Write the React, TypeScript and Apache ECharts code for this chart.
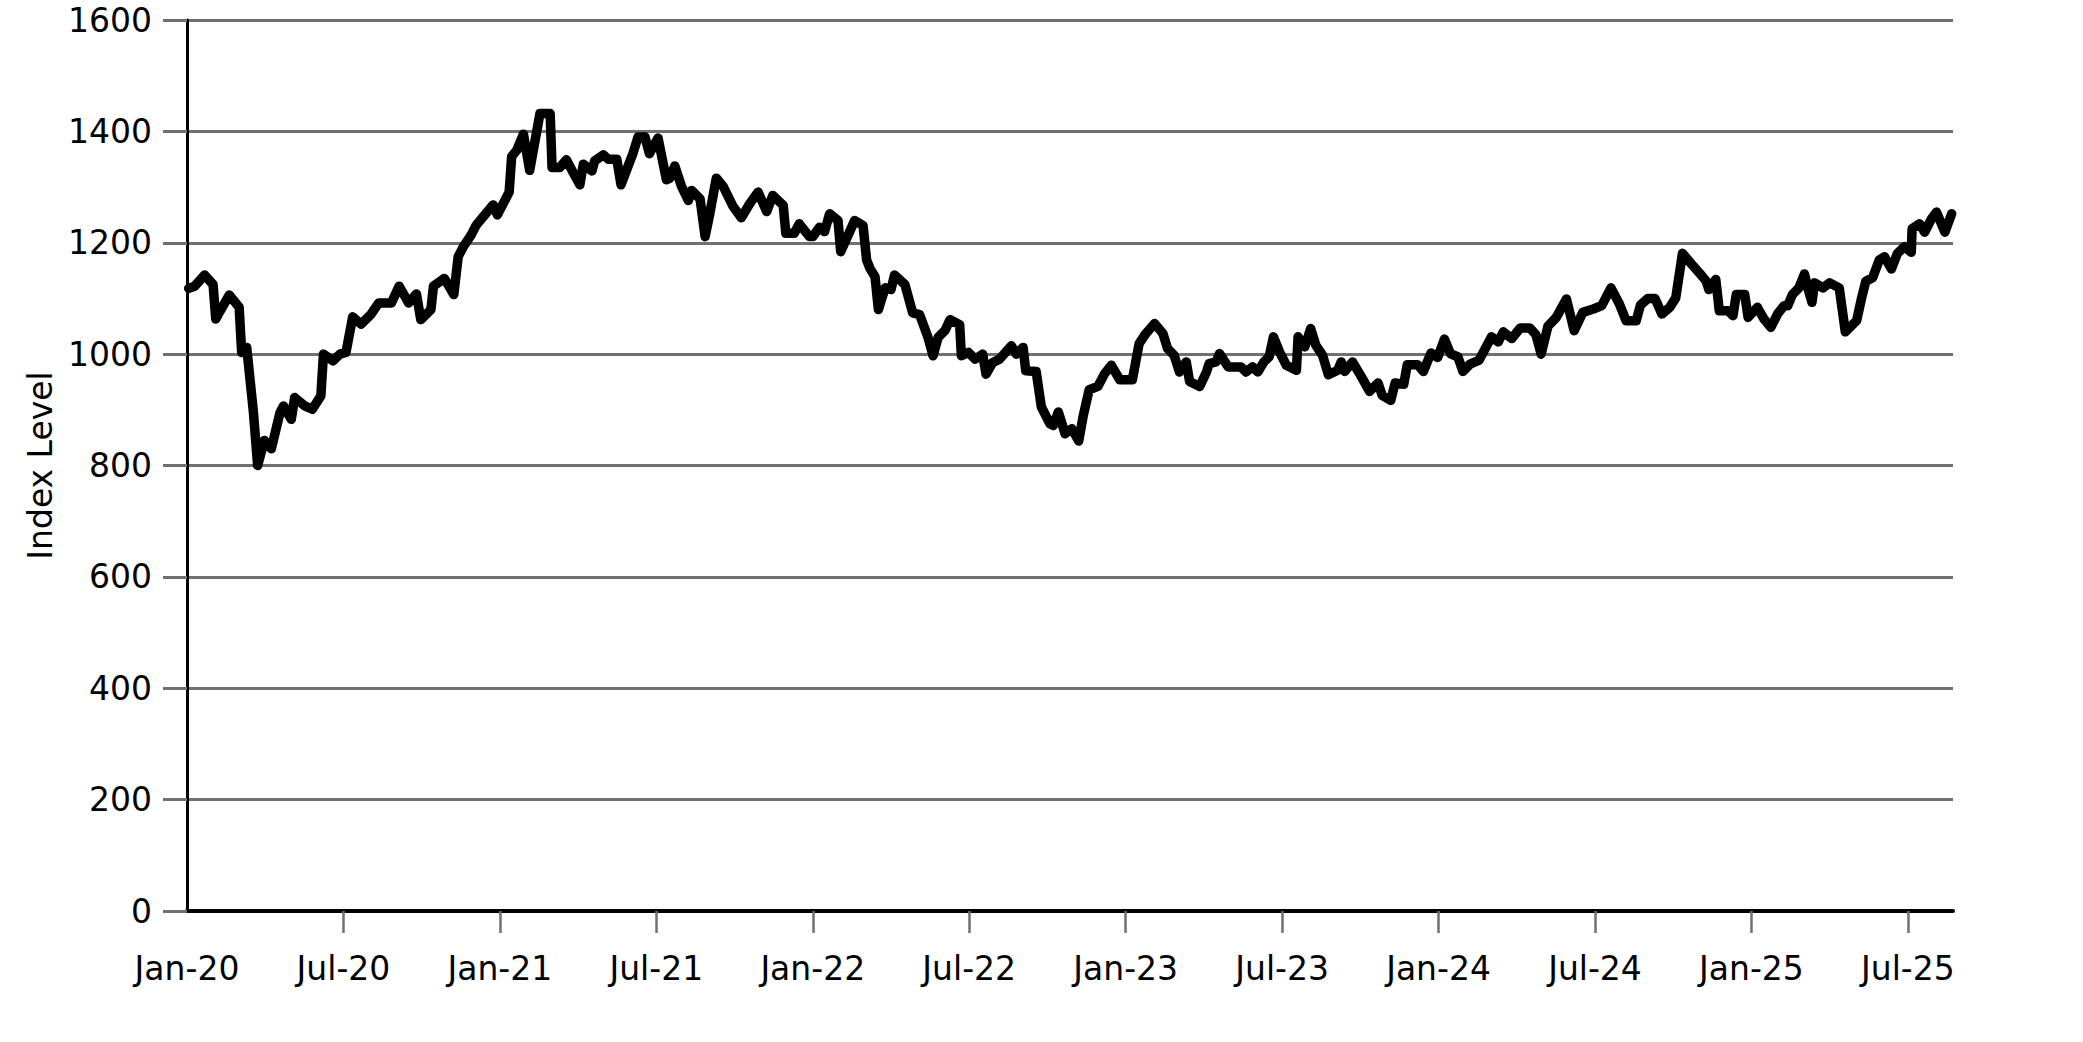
import React, { useEffect, useRef } from "react";
import * as echarts from "echarts";

const dates: string[] = [
  "2020-01-03","2020-01-10","2020-01-22","2020-02-01","2020-02-04","2020-02-08","2020-02-19","2020-03-01","2020-03-04","2020-03-10",
  "2020-03-18","2020-03-23","2020-03-31","2020-04-08","2020-04-18","2020-04-22","2020-05-01","2020-05-05","2020-05-17","2020-05-26",
  "2020-06-05","2020-06-08","2020-06-19","2020-06-27","2020-07-04","2020-07-12","2020-07-22","2020-08-03","2020-08-12","2020-08-27",
  "2020-09-05","2020-09-16","2020-09-25","2020-09-30","2020-10-12","2020-10-15","2020-10-28","2020-11-08","2020-11-13","2020-11-19",
  "2020-11-28","2020-12-04","2020-12-24","2020-12-29","2021-01-12","2021-01-15","2021-01-21","2021-01-29","2021-02-05","2021-02-16",
  "2021-02-27","2021-03-01","2021-03-10","2021-03-18","2021-03-24","2021-04-03","2021-04-07","2021-04-17","2021-04-20","2021-04-30",
  "2021-05-06","2021-05-16","2021-05-21","2021-05-28","2021-06-04","2021-06-10","2021-06-18","2021-06-23","2021-07-03","2021-07-13",
  "2021-07-17","2021-07-23","2021-07-31","2021-08-08","2021-08-12","2021-08-22","2021-08-28","2021-09-02","2021-09-10","2021-09-18",
  "2021-09-29","2021-10-09","2021-10-19","2021-10-29","2021-11-08","2021-11-15","2021-11-27","2021-11-30","2021-12-10","2021-12-16",
  "2021-12-28","2022-01-01","2022-01-09","2022-01-15","2022-01-21","2022-01-31","2022-02-03","2022-02-11","2022-02-18","2022-02-27",
  "2022-03-03","2022-03-07","2022-03-13","2022-03-17","2022-03-25","2022-04-01","2022-04-05","2022-04-17","2022-04-26","2022-05-04",
  "2022-05-14","2022-05-20","2022-05-26","2022-06-03","2022-06-09","2022-06-20","2022-06-22","2022-06-30","2022-07-08","2022-07-17",
  "2022-07-21","2022-07-29","2022-08-06","2022-08-20","2022-08-26","2022-09-03","2022-09-06","2022-09-18","2022-09-24","2022-10-04",
  "2022-10-08","2022-10-14","2022-10-22","2022-10-30","2022-11-07","2022-11-12","2022-11-19","2022-11-29","2022-12-07","2022-12-15",
  "2022-12-25","2023-01-09","2023-01-17","2023-01-25","2023-02-04","2023-02-13","2023-02-18","2023-02-25","2023-03-03","2023-03-11",
  "2023-03-15","2023-03-27","2023-04-04","2023-04-07","2023-04-15","2023-04-19","2023-04-29","2023-05-14","2023-05-20","2023-05-28",
  "2023-06-03","2023-06-10","2023-06-16","2023-06-21","2023-06-28","2023-07-06","2023-07-18","2023-07-20","2023-07-28","2023-08-04",
  "2023-08-10","2023-08-18","2023-08-25","2023-09-05","2023-09-09","2023-09-13","2023-09-22","2023-10-02","2023-10-12","2023-10-22",
  "2023-10-27","2023-11-06","2023-11-11","2023-11-21","2023-11-25","2023-12-07","2023-12-14","2023-12-23","2023-12-31","2024-01-08",
  "2024-01-15","2024-01-24","2024-01-30","2024-02-07","2024-02-17","2024-03-02","2024-03-10","2024-03-16","2024-03-26","2024-04-05",
  "2024-04-16","2024-04-23","2024-04-29","2024-05-07","2024-05-17","2024-05-29","2024-06-07","2024-06-17","2024-06-29","2024-07-09",
  "2024-07-20","2024-07-30","2024-08-07","2024-08-19","2024-08-24","2024-09-02","2024-09-10","2024-09-18","2024-09-27","2024-10-04",
  "2024-10-12","2024-10-22","2024-11-01","2024-11-09","2024-11-12","2024-11-20","2024-11-24","2024-12-04","2024-12-10","2024-12-14",
  "2024-12-24","2024-12-28","2025-01-08","2025-01-16","2025-01-24","2025-02-01","2025-02-08","2025-02-12","2025-02-17","2025-02-24",
  "2025-03-02","2025-03-06","2025-03-11","2025-03-14","2025-03-24","2025-04-01","2025-04-12","2025-04-19","2025-05-02","2025-05-08",
  "2025-05-13","2025-05-21","2025-05-29","2025-06-04","2025-06-12","2025-06-19","2025-06-27","2025-07-05","2025-07-06","2025-07-15",
  "2025-07-21","2025-07-29","2025-08-04","2025-08-14","2025-08-22"
];

const indexValues: number[] = [
  1118,1122,1142,1125,1063,1075,1106,1084,1003,1012,
  895,800,845,830,895,907,883,922,907,901,
  925,1000,988,1000,1003,1067,1054,1072,1092,1092,
  1122,1092,1108,1062,1080,1122,1136,1107,1175,1193,
  1214,1232,1268,1250,1291,1355,1366,1395,1330,1432,
  1432,1335,1335,1349,1332,1304,1341,1329,1347,1358,
  1350,1350,1304,1332,1360,1390,1390,1360,1388,1313,
  1316,1338,1301,1276,1294,1279,1211,1248,1316,1301,
  1266,1245,1270,1291,1256,1285,1267,1217,1217,1234,
  1211,1211,1228,1220,1252,1240,1184,1214,1240,1231,
  1169,1154,1139,1080,1119,1116,1142,1125,1074,1071,
  1030,997,1030,1042,1062,1053,997,1003,991,1000,
  964,985,991,1015,1000,1012,970,969,905,875,
  872,896,857,866,844,888,936,942,965,980,
  954,954,1019,1037,1055,1037,1010,998,968,986,
  951,942,968,983,986,1001,977,977,968,977,
  968,986,995,1031,1004,980,971,1031,1013,1046,
  1016,998,963,971,986,969,986,960,933,948,
  926,917,948,946,981,981,969,1002,994,1027,
  1001,995,969,982,989,1031,1022,1040,1028,1047,
  1047,1035,1000,1050,1066,1099,1042,1075,1081,1087,
  1119,1090,1060,1060,1088,1100,1100,1072,1084,1101,
  1181,1163,1146,1131,1116,1134,1078,1078,1069,1107,
  1107,1066,1084,1063,1048,1072,1087,1087,1107,1119,
  1144,1119,1093,1128,1119,1128,1119,1040,1060,1101,
  1131,1137,1169,1175,1153,1181,1193,1183,1225,1234,
  1219,1243,1255,1219,1252
];

const xTickMonths: number[] = [0, 6, 12, 18, 24, 30, 36, 42, 48, 54, 60, 66];
const xTickLabels: string[] = [
  "Jan-20","Jul-20","Jan-21","Jul-21","Jan-22","Jul-22",
  "Jan-23","Jul-23","Jan-24","Jul-24","Jan-25","Jul-25"
];
const yTicks: number[] = [0, 200, 400, 600, 800, 1000, 1200, 1400, 1600];

function monthsSinceStart(d: string): number {
  const [y, m, day] = d.split("-").map(Number);
  const dim = new Date(Date.UTC(y, m, 0)).getUTCDate();
  return (y - 2020) * 12 + (m - 1) + (day - 1) / dim;
}

const FONT = "DejaVu Sans";

export default function App() {
  const ref = useRef<HTMLDivElement>(null);
  useEffect(() => {
    if (!ref.current) return;
    const chart = echarts.init(ref.current, null, { renderer: "svg" });
    const data = dates.map((d, i) => [monthsSinceStart(d), indexValues[i]]);
    chart.setOption({
      animation: false,
      backgroundColor: "#ffffff",
      grid: { left: 187, top: 20, right: 130, bottom: 131, containLabel: false },
      xAxis: {
        type: "value",
        min: 0,
        max: 67.73,
        interval: 6,
        axisLine: { show: true, onZero: false, lineStyle: { color: "#000", width: 4 } },
        axisTick: {
          show: true,
          customValues: xTickMonths.slice(1),
          length: 22,
          lineStyle: { color: "#707070", width: 2.5 },
        },
        axisLabel: {
          customValues: xTickMonths,
          formatter: (v: number) => {
            const i = xTickMonths.indexOf(Math.round(v));
            return i >= 0 ? xTickLabels[i] : "";
          },
          color: "#000",
          fontFamily: FONT,
          fontSize: 33,
          margin: 41,
        },
        splitLine: { show: false },
      },
      yAxis: {
        type: "value",
        min: yTicks[0],
        max: yTicks[yTicks.length - 1],
        interval: 200,
        name: "Index Level",
        nameLocation: "middle",
        nameGap: 126,
        nameTextStyle: { color: "#000", fontFamily: FONT, fontSize: 33 },
        axisLine: { show: true, lineStyle: { color: "#000", width: 3 } },
        axisTick: { show: true, length: 24, lineStyle: { color: "#707070", width: 3 } },
        axisLabel: {
          color: "#000",
          fontFamily: FONT,
          fontSize: 33,
          margin: 35,
          formatter: (v: number) => String(v),
        },
        splitLine: { show: true, lineStyle: { color: "#707070", width: 3 } },
      },
      series: [
        {
          type: "line",
          data,
          showSymbol: false,
          symbol: "none",
          lineStyle: { color: "#000", width: 9.5, join: "round", cap: "round" },
          z: 5,
        },
      ],
    });
    return () => chart.dispose();
  }, []);
  return (
    <div
      ref={ref}
      style={{ position: "absolute", left: 0, top: 0, width: 2083, height: 1042 }}
    />
  );
}
